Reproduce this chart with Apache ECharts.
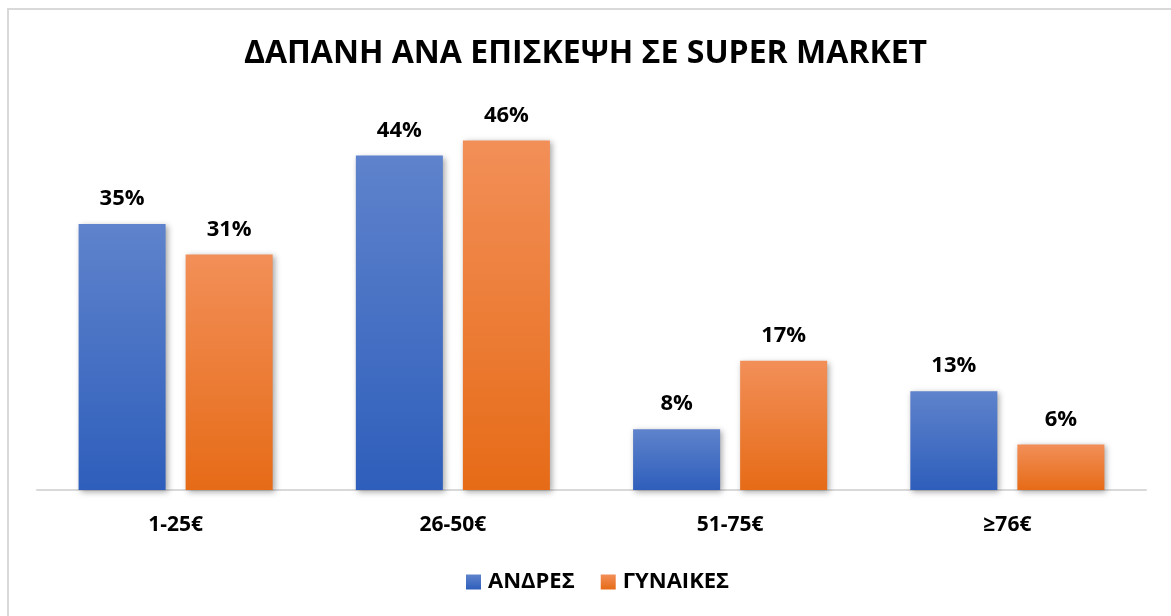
<!DOCTYPE html>
<html>
<head>
<meta charset="utf-8">
<script src="https://cdn.jsdelivr.net/npm/echarts@6/dist/echarts.min.js"></script>
<style>
  html, body { margin: 0; padding: 0; background: #fff; }
  #chart { width: 1171px; height: 616px; }
</style>
</head>
<body>
<div id="chart"></div>
<script>
// Spending per supermarket visit, by gender (percent of respondents)
const categories = ['1-25€', '26-50€', '51-75€', '≥76€'];
const seriesNames = ['ΑΝΔΡΕΣ', 'ΓΥΝΑΙΚΕΣ'];
const men = [35, 44, 8, 13];
const women = [31, 46, 17, 6];
const titleText = 'ΔΑΠΑΝΗ ΑΝΑ ΕΠΙΣΚΕΨΗ ΣΕ SUPER MARKET';

const FONT = '"Open Sans", "Noto Sans", sans-serif';

function grad(top, bottom) {
  return new echarts.graphic.LinearGradient(0, 0, 0, 1, [
    { offset: 0, color: top },
    { offset: 1, color: bottom }
  ]);
}

const blue = grad('#5F83CC', '#2E5EBB');
const orange = grad('#F28F58', '#E66B17');

const barStyle = (fill) => ({
  color: fill,
  shadowColor: 'rgba(0,0,0,0.35)',
  shadowBlur: 6,
  shadowOffsetX: 2,
  shadowOffsetY: 2
});

const labelStyle = {
  show: true,
  position: 'top',
  distance: 14,
  formatter: '{c}%',
  color: '#000',
  fontFamily: FONT,
  fontWeight: 'bold',
  fontSize: 22
};

const chart = echarts.init(document.getElementById('chart'), null, { renderer: 'canvas' });
chart.setOption({
  backgroundColor: '#fff',
  animation: false,
  graphic: [{
    type: 'rect',
    silent: true,
    shape: { x: 8, y: 9, width: 1200, height: 700 },
    style: { fill: 'none', stroke: '#D9D9D9', lineWidth: 2 }
  }],
  title: {
    text: titleText,
    left: 'center',
    top: 33,
    textStyle: { fontFamily: FONT, fontWeight: 'bold', fontSize: 32, color: '#000' }
  },
  legend: {
    data: seriesNames,
    bottom: 18,
    left: 461,
    itemWidth: 15,
    itemHeight: 15,
    itemGap: 26,
    icon: 'rect',
    textStyle: { fontFamily: FONT, fontWeight: 'bold', fontSize: 22, color: '#000', padding: [0, 0, 0, 2] }
  },
  grid: { left: 37, right: 25, top: 110, bottom: 126, containLabel: false },
  xAxis: {
    type: 'category',
    data: categories,
    axisLine: { show: true, lineStyle: { color: '#D9D9D9', width: 2 } },
    axisTick: { show: false },
    axisLabel: { margin: 25, color: '#000', fontFamily: FONT, fontWeight: 'bold', fontSize: 21 }
  },
  yAxis: {
    type: 'value',
    min: 0,
    max: 50,
    interval: 10,
    show: false,
    splitLine: { show: false }
  },
  series: [
    {
      name: seriesNames[0],
      type: 'bar',
      data: men,
      barGap: '23%',
      barCategoryGap: '30%',
      itemStyle: barStyle(blue),
      label: labelStyle
    },
    {
      name: seriesNames[1],
      type: 'bar',
      data: women,
      itemStyle: barStyle(orange),
      label: labelStyle
    }
  ]
});
</script>
</body>
</html>
